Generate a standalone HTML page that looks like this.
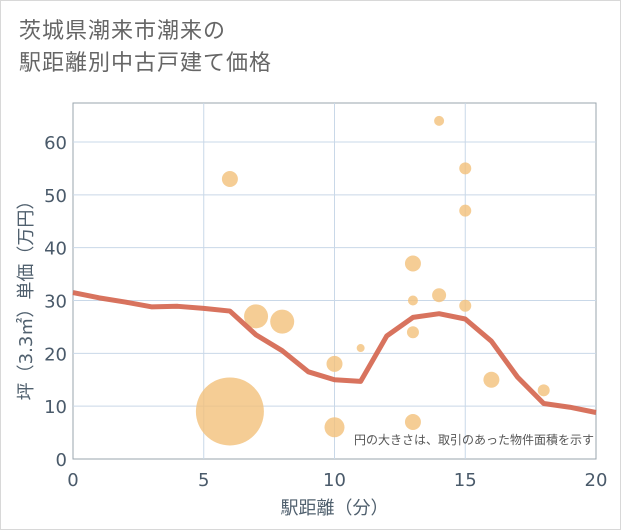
<!DOCTYPE html>
<html><head><meta charset="utf-8"><style>
body{margin:0;background:#fff;font-family:"Liberation Sans","Noto Sans CJK JP",sans-serif;}
#wrap{position:relative;width:619px;height:528px;border:1px solid #d8d8d8;background:#fff;}
#title{position:absolute;left:18px;top:14px;font-size:22px;line-height:32px;color:#666;letter-spacing:1px;}
</style></head><body>
<div id="wrap">
<div id="title">茨城県潮来市潮来の<br>駅距離別中古戸建て価格</div>
<svg id="chart" width="621" height="530" style="position:absolute;left:-1px;top:-1px"></svg>
</div>
<script>
const xTicks=[0,5,10,15,20];
const yTicks=[0,10,20,30,40,50,60];
const lineX=[0,1,2,3,4,5,6,7,8,9,10,11,12,13,14,15,16,17,18,19,20];
const lineY=[31.5,30.5,29.7,28.8,28.9,28.5,28,23.5,20.5,16.5,15,14.7,23.3,26.8,27.5,26.5,22.3,15.5,10.5,9.8,8.8];
const bubX=[6,6,7,8,10,10,11,13,13,13,13,14,14,15,15,15,16,18];
const bubY=[53,9,27,26,18,6,21,37,30,24,7,64,31,55,47,29,15,13];
const bubR=[8,34,12,12,8,10,4,8,5,6,8,5,7,6,6,6,8,6];
const L=73,R=596,T=103,B=459;
const xs=v=>L+(v-0)/20*(R-L);
const ys=v=>B-v*(B-142)/60;
const svg=document.getElementById('chart');
const NS='http://www.w3.org/2000/svg';
const TF='"DejaVu Sans","Liberation Sans","Noto Sans CJK JP",sans-serif';
function mk(t,a){const e=document.createElementNS(NS,t);for(const k in a)e.setAttribute(k,a[k]);svg.appendChild(e);return e;}
let fr=mk('rect',{x:L,y:T,width:R-L,height:B-T,fill:'#fff',stroke:'#9aa4ad','stroke-width':1});


xTicks.forEach(v=>{
  if(v>0&&v<20){const g=mk('line',{x1:xs(v),x2:xs(v),y1:T,y2:B,stroke:'#c9d8e8','stroke-width':1});
  
  }
  const t=mk('text',{x:xs(v),y:B+27,'text-anchor':'middle','font-size':18,fill:'#4a5a6a','font-family':TF});t.textContent=v;
  
  
});
yTicks.forEach(v=>{
  if(v>0){const g=mk('line',{x1:L,x2:R,y1:ys(v),y2:ys(v),stroke:'#c9d8e8','stroke-width':1});
  
  }
  const t=mk('text',{x:L-6,y:ys(v)+7,'text-anchor':'end','font-size':18,fill:'#4a5a6a','font-family':TF});t.textContent=v;
  
  
});
bubX.forEach((x,i)=>{
  const c=mk('circle',{cx:xs(x),cy:ys(bubY[i]),r:bubR[i],fill:'#f3c17a','fill-opacity':0.8});
  
  
});
const pl=mk('polyline',{points:lineX.map((x,i)=>xs(x)+','+ys(lineY[i])).join(' '),fill:'none',stroke:'#d4644c','stroke-width':5,'stroke-opacity':0.9,'stroke-linejoin':'round'});


const n=mk('text',{x:R-2,y:444,'text-anchor':'end','font-size':12,fill:'#555'});n.textContent='円の大きさは、取引のあった物件面積を示す';


const xt=mk('text',{x:(L+R)/2,y:514,'text-anchor':'middle','font-size':18,fill:'#50606e','font-family':TF});xt.textContent='駅距離（分）';


const yt=mk('text',{x:0,y:0,'text-anchor':'middle','font-size':18,fill:'#50606e','font-family':TF,transform:'translate(32,'+((T+B)/2+15)+') rotate(-90)'});yt.textContent='坪（3.3㎡）単価（万円）';


</script>
</body></html>
